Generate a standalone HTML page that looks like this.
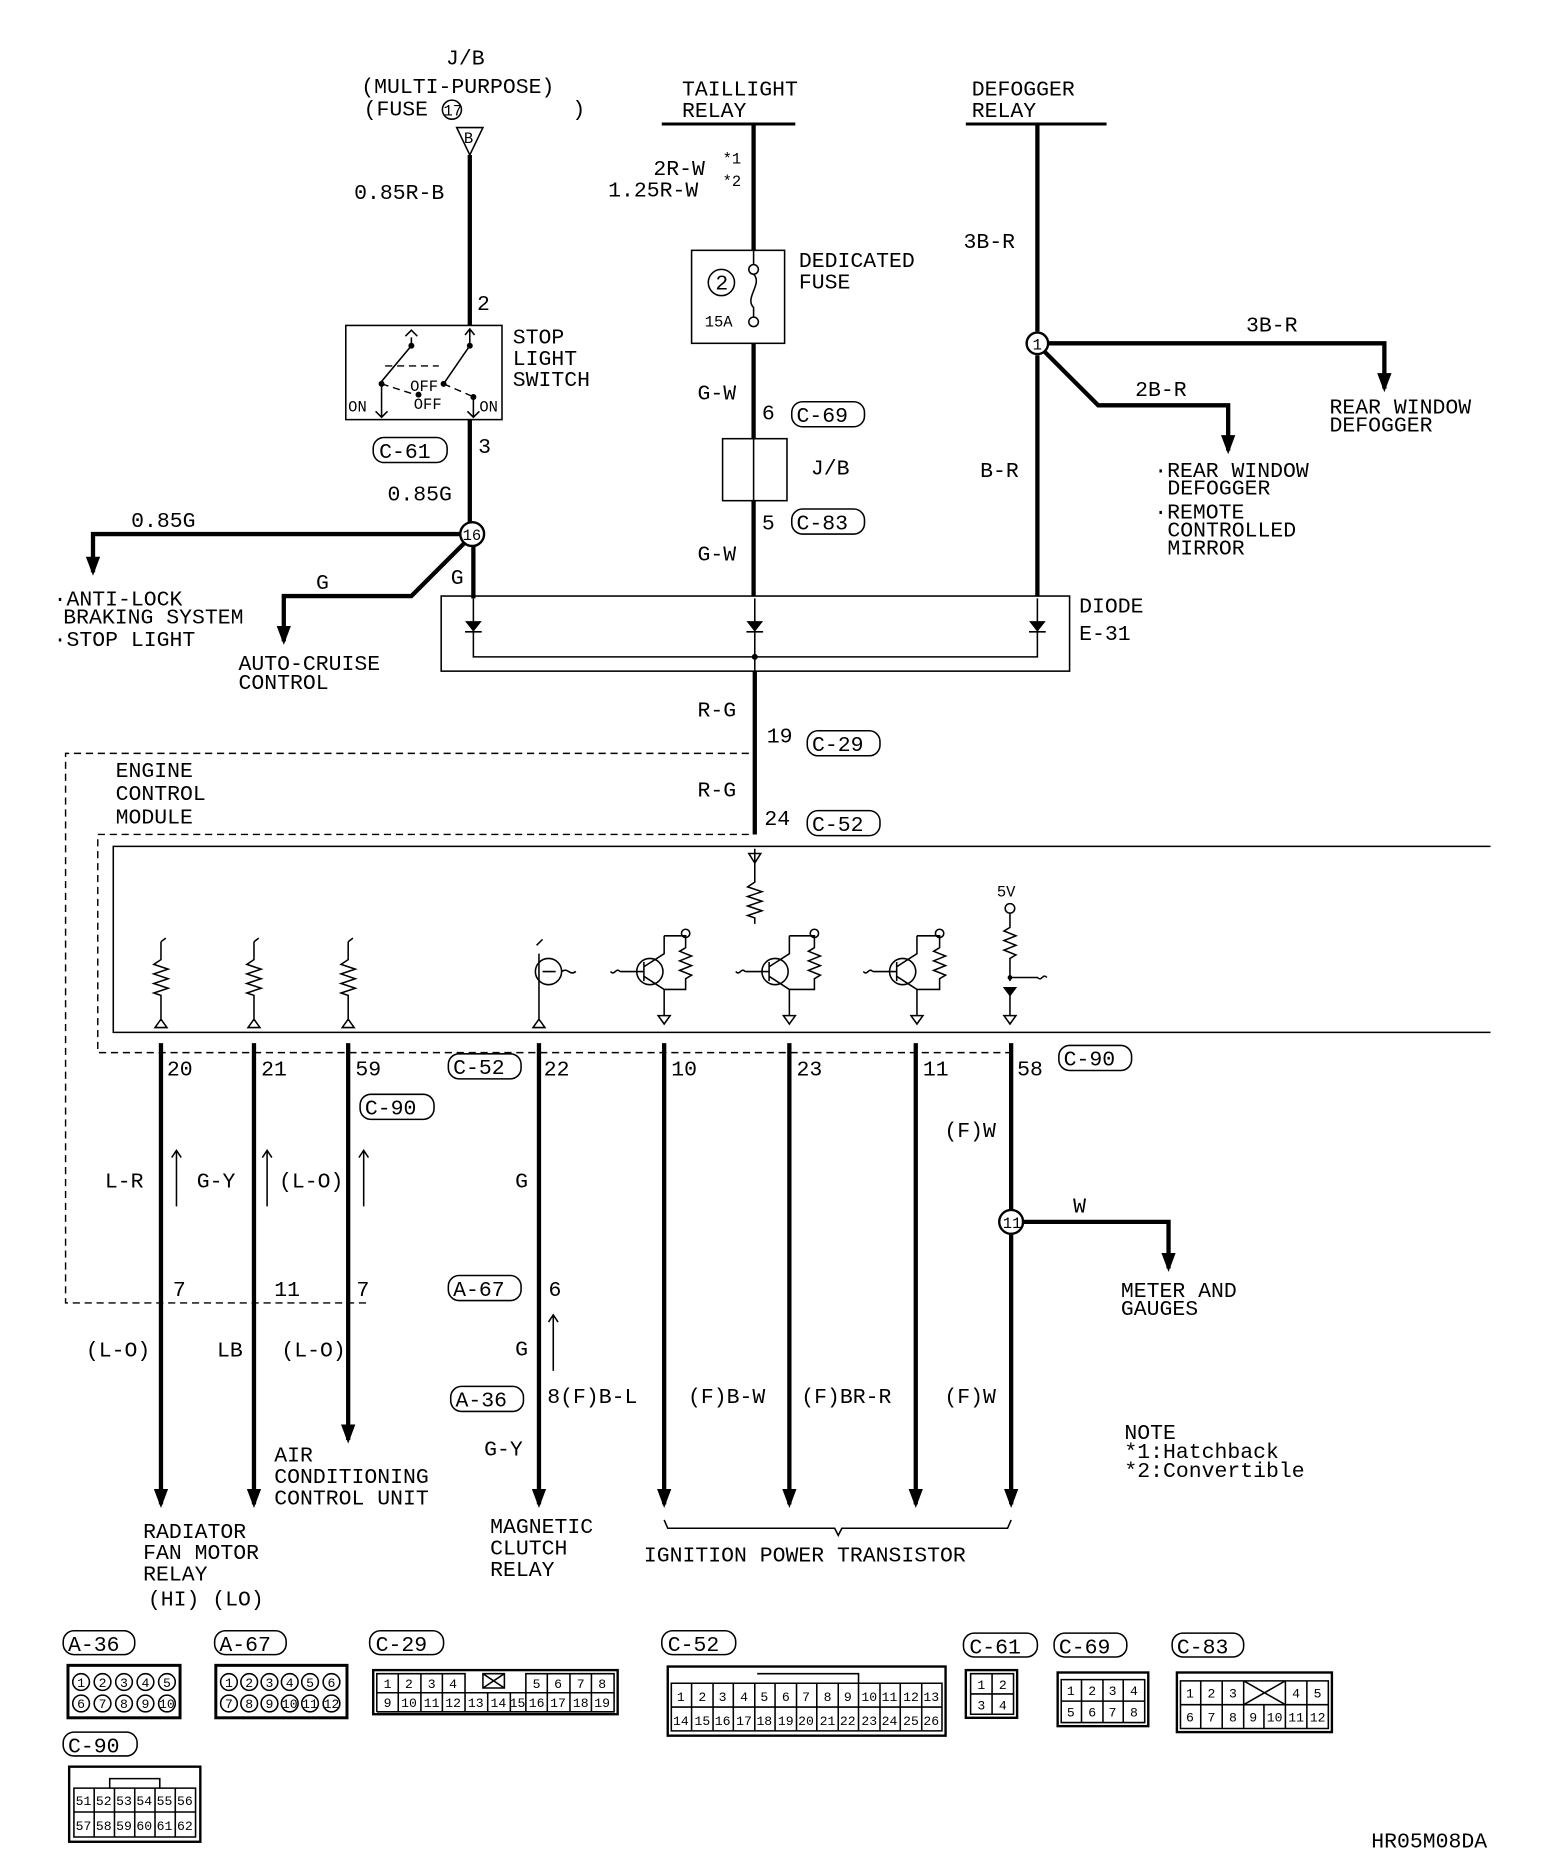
<!DOCTYPE html>
<html><head><meta charset="utf-8"><style>
html,body{margin:0;padding:0;background:#fff}
svg{display:block}
text{font-family:"Liberation Mono","DejaVu Sans Mono",monospace;fill:#000}
.t{font-size:18px}
.s{font-size:13px}
.w{stroke:#000;stroke-width:3.6;fill:none}
.l{stroke:#000;stroke-width:1.3;fill:none}
.d{stroke:#000;stroke-width:1.2;fill:none;stroke-dasharray:6 4}
.c{font-size:11px;text-anchor:middle}
</style></head><body>
<svg width="1568" height="1868" viewBox="0 0 1315 1567" preserveAspectRatio="none" xmlns="http://www.w3.org/2000/svg">
<defs><marker id="a" markerWidth="12" markerHeight="16" refX="6" refY="13" orient="0" markerUnits="userSpaceOnUse"><path d="M0,0 L12,0 L6,16 z" fill="#000" stroke="none"/></marker></defs>

<!-- J/B fuse -->
<text class="t" x="374" y="54">J/B</text>
<text class="t" x="303" y="78">(MULTI-PURPOSE)</text>
<text class="t" x="305" y="97">(FUSE</text>
<circle cx="379" cy="92" r="8" class="l"/><text class="s" x="372" y="97">17</text>
<text class="t" x="480" y="97">)</text>
<path d="M383,107 L405,107 L394,130 z" class="l"/><text class="s" x="389" y="120">B</text>
<line x1="394" y1="130" x2="394" y2="273" class="w"/>
<text class="t" x="297" y="167">0.85R-B</text>
<text class="t" x="400" y="260">2</text>
<rect x="290" y="273" width="131" height="79" class="l"/>
<text class="t" x="430" y="288">STOP</text><text class="t" x="430" y="306">LIGHT</text><text class="t" x="430" y="324">SWITCH</text>
<path d="M394,276 L394,290 M390,281 L394,276 L398,281" class="l"/>
<path d="M345,283 L345,290 M340,282 L345,277 L350,282 M345,290 L320,320 M394,290 L372,322" class="l"/>
<circle cx="345" cy="290" r="2.5"/><circle cx="394" cy="290" r="2.5"/><circle cx="320" cy="322" r="2.5"/><circle cx="372" cy="322" r="2.5"/><circle cx="351" cy="331" r="2.5"/><circle cx="397" cy="333" r="2.5"/>
<path d="M323,307 L368,307 M320,322 L348,331 M372,322 L395,332" class="d"/>
<path d="M320,322 L320,350 M315,345 L320,350 L325,345 M397,333 L397,350 M392,345 L397,350 L402,345" class="l"/>
<text class="s" x="292" y="345">ON</text><text class="s" x="344" y="328">OFF</text><text class="s" x="347" y="343">OFF</text><text class="s" x="402" y="345">ON</text>
<rect x="313" y="367" width="62" height="21" rx="9" class="l"/><text class="t" x="318" y="384">C-61</text>
<text class="t" x="401" y="380">3</text>
<line x1="394" y1="352" x2="394" y2="439" class="w"/>
<text class="t" x="325" y="420">0.85G</text>
<circle cx="396" cy="448" r="10" class="l" style="stroke-width:2"/><text class="s" x="388" y="453">16</text>
<path d="M386,448 L78,448 L78,480" class="w" marker-end="url(#a)"/>
<text class="t" x="110" y="442">0.85G</text>
<text class="t" x="45" y="508">·ANTI-LOCK</text><text class="t" x="53" y="523">BRAKING SYSTEM</text><text class="t" x="45" y="542">·STOP LIGHT</text>
<path d="M389,456 L345,500 L238,500 L238,538" class="w" marker-end="url(#a)"/>
<text class="t" x="265" y="494">G</text>
<text class="t" x="200" y="562">AUTO-CRUISE</text><text class="t" x="200" y="578">CONTROL</text>
<line x1="397" y1="458" x2="397" y2="502" class="w"/>
<text class="t" x="378" y="490">G</text>

<!-- Diode -->
<rect x="370" y="500" width="527" height="63" class="l"/>
<text class="t" x="905" y="514">DIODE</text><text class="t" x="905" y="537">E-31</text>
<path d="M397,502 L397,551 L870,551 L870,502 M633,502 L633,563" class="l"/>
<path d="M390,521 L404,521 L397,530 z M626,521 L640,521 L633,530 z M863,521 L877,521 L870,530 z"/>
<path d="M390,530 L404,530 M626,530 L640,530 M863,530 L877,530" class="l"/>
<circle cx="633" cy="551" r="2.5"/>

<!-- Taillight -->
<text class="t" x="572" y="80">TAILLIGHT</text><text class="t" x="572" y="98">RELAY</text>
<line x1="555" y1="104" x2="667" y2="104" class="w" style="stroke-width:2.5"/>
<line x1="632" y1="104" x2="632" y2="210" class="w"/>
<text class="t" x="548" y="147">2R-W</text><text class="s" x="606" y="137">*1</text>
<text class="t" x="510" y="165">1.25R-W</text><text class="s" x="606" y="156">*2</text>
<rect x="580" y="210" width="78" height="78" class="l"/>
<circle cx="605" cy="237" r="11" class="l"/><text class="t" x="600" y="243">2</text>
<text class="s" x="591" y="274">15A</text>
<circle cx="632" cy="226" r="4" class="l"/><circle cx="632" cy="270" r="4" class="l"/>
<path d="M632,230 C640,238 624,250 632,258 L632,266" class="l"/>
<line x1="632" y1="210" x2="632" y2="222" class="l"/>
<text class="t" x="670" y="224">DEDICATED</text><text class="t" x="670" y="242">FUSE</text>
<line x1="632" y1="288" x2="632" y2="368" class="w"/>
<text class="t" x="585" y="335">G-W</text>
<text class="t" x="639" y="352">6</text>
<rect x="664" y="337" width="61" height="21" rx="9" class="l"/><text class="t" x="668" y="354">C-69</text>
<rect x="606" y="368" width="54" height="52" class="l"/>
<line x1="632" y1="368" x2="632" y2="420" class="l"/>
<text class="t" x="680" y="398">J/B</text>
<line x1="632" y1="420" x2="632" y2="500" class="w"/>
<text class="t" x="639" y="444">5</text>
<rect x="664" y="427" width="61" height="21" rx="9" class="l"/><text class="t" x="668" y="444">C-83</text>
<text class="t" x="585" y="470">G-W</text>

<!-- Defogger -->
<text class="t" x="815" y="80">DEFOGGER</text><text class="t" x="815" y="98">RELAY</text>
<line x1="810" y1="104" x2="928" y2="104" class="w" style="stroke-width:2.5"/>
<line x1="870" y1="104" x2="870" y2="278" class="w"/>
<line x1="870" y1="298" x2="870" y2="500" class="w"/>
<text class="t" x="808" y="208">3B-R</text>
<circle cx="870" cy="288" r="9" class="l" style="stroke-width:2"/><text class="s" x="866" y="293">1</text>
<path d="M879,288 L1161,288 L1161,326" class="w" marker-end="url(#a)"/>
<text class="t" x="1045" y="278">3B-R</text>
<path d="M876,295 L921,340 L1030,340 L1030,378" class="w" marker-end="url(#a)"/>
<text class="t" x="952" y="332">2B-R</text>
<text class="t" x="1115" y="347">REAR WINDOW</text><text class="t" x="1115" y="362">DEFOGGER</text>
<text class="t" x="968" y="400">·REAR WINDOW</text><text class="t" x="979" y="415">DEFOGGER</text>
<text class="t" x="968" y="435">·REMOTE</text><text class="t" x="979" y="450">CONTROLLED</text><text class="t" x="979" y="465">MIRROR</text>
<text class="t" x="822" y="400">B-R</text>

<!-- R-G -->
<line x1="633" y1="563" x2="633" y2="700" class="w"/>
<text class="t" x="585" y="601">R-G</text>
<text class="t" x="643" y="623">19</text>
<rect x="677" y="613" width="61" height="21" rx="9" class="l"/><text class="t" x="681" y="630">C-29</text>
<text class="t" x="585" y="668">R-G</text>
<text class="t" x="641" y="692">24</text>
<rect x="677" y="680" width="61" height="21" rx="9" class="l"/><text class="t" x="681" y="697">C-52</text>

<!-- ECM dashed -->
<path d="M628,632 L55,632 L55,1093 L310,1093" class="d"/>
<path d="M628,700 L82,700 L82,883 L850,883" class="d"/>
<text class="t" x="97" y="652">ENGINE</text><text class="t" x="97" y="671">CONTROL</text><text class="t" x="97" y="691">MODULE</text>
<path d="M1250,710 L95,710 L95,866 L1250,866" class="l"/>

<!-- internals -->
<path d="M633,712 L633,740 l-6,4 12,4 -12,4 12,4 -12,4 12,4 -12,4 6,2 L633,775" class="l"/>
<path d="M628,716 L638,716 L633,724 z" class="l"/>
<g class="l">
<path d="M135,790 l4,-3 M135,790 L135,805 l-6,4 12,4 -12,4 12,4 -12,4 12,4 -12,4 6,2 L135,855 M130,862 L140,862 L135,855 z"/>
<path d="M213,790 l4,-3 M213,790 L213,805 l-6,4 12,4 -12,4 12,4 -12,4 12,4 -12,4 6,2 L213,855 M208,862 L218,862 L213,855 z"/>
<path d="M292,790 l4,-3 M292,790 L292,805 l-6,4 12,4 -12,4 12,4 -12,4 12,4 -12,4 6,2 L292,855 M287,862 L297,862 L292,855 z"/>
<circle cx="460" cy="815" r="11"/><path d="M452,800 L452,855 M447,862 L457,862 L452,855 z M455,815 L466,815 M471,815 c6,-4 6,4 12,0 M450,793 l5,-5"/>
<circle cx="545" cy="815" r="11"/><path d="M520,815 L540,815 M540,807 L540,823 M540,811 L557,800 L557,785 M540,819 L557,830 L557,852 M552,852 L562,852 L557,859 z M557,785 L575,785 L575,795 l-5,3 10,4 -10,4 10,4 -10,4 10,4 -5,3 L575,830 L557,830 M520,815 c-4,-4 -4,4 -8,0"/><circle cx="575" cy="783" r="3.5"/>
<circle cx="650" cy="815" r="11"/><path d="M625,815 L645,815 M645,807 L645,823 M645,811 L662,800 L662,785 M645,819 L662,830 L662,852 M657,852 L667,852 L662,859 z M662,785 L683,785 L683,795 l-5,3 10,4 -10,4 10,4 -10,4 10,4 -5,3 L683,830 L662,830 M625,815 c-4,-4 -4,4 -8,0"/><circle cx="683" cy="783" r="3.5"/>
<circle cx="757" cy="815" r="11"/><path d="M732,815 L752,815 M752,807 L752,823 M752,811 L769,800 L769,785 M752,819 L769,830 L769,852 M764,852 L774,852 L769,859 z M769,785 L788,785 L788,795 l-5,3 10,4 -10,4 10,4 -10,4 10,4 -5,3 L788,830 L769,830 M732,815 c-4,-4 -4,4 -8,0"/><circle cx="788" cy="783" r="3.5"/>
<circle cx="847" cy="762" r="4"/><path d="M847,766 L847,778 l-5,3 10,4 -10,4 10,4 -10,4 10,4 -5,3 L847,823 M847,820 L870,820 c4,4 4,-4 8,0 M842,852 L852,852 L847,859 z M847,834 L847,852"/>
</g>
<text class="s" x="836" y="752">5V</text>
<path d="M841,828 L853,828 L847,836 z"/>
<circle cx="847" cy="820" r="2"/>

<!-- output wires -->
<g class="w">
<line x1="135" y1="875" x2="135" y2="1262" marker-end="url(#a)"/>
<line x1="213" y1="875" x2="213" y2="1262" marker-end="url(#a)"/>
<line x1="292" y1="875" x2="292" y2="1208" marker-end="url(#a)"/>
<line x1="452" y1="875" x2="452" y2="1262" marker-end="url(#a)"/>
<line x1="557" y1="875" x2="557" y2="1262" marker-end="url(#a)"/>
<line x1="662" y1="875" x2="662" y2="1262" marker-end="url(#a)"/>
<line x1="768" y1="875" x2="768" y2="1262" marker-end="url(#a)"/>
<line x1="848" y1="875" x2="848" y2="1015"/>
<line x1="848" y1="1035" x2="848" y2="1262" marker-end="url(#a)"/>
<path d="M857,1025 L980,1025 L980,1064" marker-end="url(#a)"/>
</g>
<circle cx="848" cy="1025" r="10" class="l" style="stroke-width:2"/><text class="s" x="841" y="1030">11</text>
<text class="t" x="900" y="1017">W</text>
<text class="t" x="940" y="1088">METER AND</text><text class="t" x="940" y="1103">GAUGES</text>
<text class="t" x="140" y="902">20</text><text class="t" x="219" y="902">21</text><text class="t" x="298" y="902">59</text>
<rect x="302" y="918" width="62" height="21" rx="9" class="l"/><text class="t" x="306" y="935">C-90</text>
<rect x="376" y="884" width="61" height="21" rx="9" class="l"/><text class="t" x="380" y="901">C-52</text>
<text class="t" x="456" y="902">22</text><text class="t" x="563" y="902">10</text><text class="t" x="668" y="902">23</text><text class="t" x="774" y="902">11</text><text class="t" x="853" y="902">58</text>
<rect x="888" y="877" width="61" height="21" rx="9" class="l"/><text class="t" x="892" y="894">C-90</text>
<text class="t" x="88" y="996">L-R</text><text class="t" x="165" y="996">G-Y</text><text class="t" x="234" y="996">(L-O)</text>
<text class="t" x="432" y="996">G</text><text class="t" x="792" y="954">(F)W</text>
<path d="M148,1012 L148,965 M144,971 L148,965 L152,971 M224,1012 L224,965 M220,971 L224,965 L228,971 M305,1012 L305,965 M301,971 L305,965 L309,971 M464,1150 L464,1103 M460,1109 L464,1103 L468,1109" class="l"/>
<text class="t" x="145" y="1087">7</text><text class="t" x="230" y="1087">11</text><text class="t" x="299" y="1087">7</text>
<rect x="376" y="1070" width="61" height="21" rx="9" class="l"/><text class="t" x="380" y="1087">A-67</text>
<text class="t" x="460" y="1087">6</text>
<text class="t" x="432" y="1137">G</text>
<text class="t" x="72" y="1138">(L-O)</text><text class="t" x="182" y="1138">LB</text><text class="t" x="236" y="1138">(L-O)</text>
<rect x="378" y="1163" width="61" height="21" rx="9" class="l"/><text class="t" x="382" y="1180">A-36</text>
<text class="t" x="459" y="1177">8(F)B-L</text><text class="t" x="577" y="1177">(F)B-W</text><text class="t" x="672" y="1177">(F)BR-R</text><text class="t" x="792" y="1177">(F)W</text>
<text class="t" x="406" y="1221">G-Y</text>
<text class="t" x="230" y="1226">AIR</text><text class="t" x="230" y="1244">CONDITIONING</text><text class="t" x="230" y="1262">CONTROL UNIT</text>
<text class="t" x="120" y="1290">RADIATOR</text><text class="t" x="120" y="1308">FAN MOTOR</text><text class="t" x="120" y="1326">RELAY</text><text class="t" x="124" y="1347">(HI)  (LO)</text>
<text class="t" x="411" y="1286">MAGNETIC</text><text class="t" x="411" y="1304">CLUTCH</text><text class="t" x="411" y="1322">RELAY</text>
<path d="M557,1275 L560,1282 L700,1282 L703,1288 L706,1282 L845,1282 L848,1275" class="l"/>
<text class="t" x="540" y="1310">IGNITION POWER TRANSISTOR</text>
<text class="t" x="943" y="1207">NOTE</text><text class="t" x="943" y="1223">*1:Hatchback</text><text class="t" x="943" y="1239">*2:Convertible</text>

<!-- connectors -->
<g class="l">
<rect x="53" y="1368" width="60" height="20" rx="9"/><rect x="180" y="1368" width="60" height="20" rx="9"/>
<rect x="310" y="1368" width="62" height="20" rx="9"/><rect x="555" y="1368" width="62" height="20" rx="9"/>
<rect x="808" y="1370" width="62" height="20" rx="9"/><rect x="884" y="1370" width="61" height="20" rx="9"/>
<rect x="983" y="1370" width="60" height="20" rx="9"/><rect x="53" y="1453" width="62" height="20" rx="9"/>
<rect x="57" y="1397" width="94" height="44" style="stroke-width:2.5"/>
<rect x="181" y="1397" width="110" height="44" style="stroke-width:2.5"/>
<rect x="313" y="1401" width="205" height="37" style="stroke-width:2"/>
<rect x="560" y="1398" width="233" height="58" style="stroke-width:2"/>
<rect x="810" y="1401" width="43" height="40" style="stroke-width:2"/>
<rect x="887" y="1403" width="76" height="45" style="stroke-width:2"/>
<rect x="987" y="1403" width="130" height="50" style="stroke-width:2"/>
<rect x="58" y="1482" width="110" height="63" style="stroke-width:2"/>
</g>
<text class="t" x="57" y="1385">A-36</text><text class="t" x="184" y="1385">A-67</text><text class="t" x="315" y="1385">C-29</text><text class="t" x="560" y="1385">C-52</text>
<text class="t" x="813" y="1387">C-61</text><text class="t" x="888" y="1387">C-69</text><text class="t" x="987" y="1387">C-83</text><text class="t" x="57" y="1470">C-90</text>
<text class="t" x="1150" y="1550">HR05M08DA</text>

<!-- A-36 -->
<g class="l"><circle cx="68" cy="1411" r="7"/><circle cx="86" cy="1411" r="7"/><circle cx="104" cy="1411" r="7"/><circle cx="122" cy="1411" r="7"/><circle cx="140" cy="1411" r="7"/>
<circle cx="68" cy="1429" r="7"/><circle cx="86" cy="1429" r="7"/><circle cx="104" cy="1429" r="7"/><circle cx="122" cy="1429" r="7"/><circle cx="140" cy="1429" r="7"/></g>
<text class="c" x="68" y="1415">1</text><text class="c" x="86" y="1415">2</text><text class="c" x="104" y="1415">3</text><text class="c" x="122" y="1415">4</text><text class="c" x="140" y="1415">5</text>
<text class="c" x="68" y="1433">6</text><text class="c" x="86" y="1433">7</text><text class="c" x="104" y="1433">8</text><text class="c" x="122" y="1433">9</text><text class="c" x="140" y="1433">10</text>
<!-- A-67 -->
<g class="l"><circle cx="192" cy="1411" r="7"/><circle cx="209" cy="1411" r="7"/><circle cx="226" cy="1411" r="7"/><circle cx="243" cy="1411" r="7"/><circle cx="260" cy="1411" r="7"/><circle cx="278" cy="1411" r="7"/>
<circle cx="192" cy="1429" r="7"/><circle cx="209" cy="1429" r="7"/><circle cx="226" cy="1429" r="7"/><circle cx="243" cy="1429" r="7"/><circle cx="260" cy="1429" r="7"/><circle cx="278" cy="1429" r="7"/></g>
<text class="c" x="192" y="1415">1</text><text class="c" x="209" y="1415">2</text><text class="c" x="226" y="1415">3</text><text class="c" x="243" y="1415">4</text><text class="c" x="260" y="1415">5</text><text class="c" x="278" y="1415">6</text>
<text class="c" x="192" y="1433">7</text><text class="c" x="209" y="1433">8</text><text class="c" x="226" y="1433">9</text><text class="c" x="243" y="1433">10</text><text class="c" x="260" y="1433">11</text><text class="c" x="278" y="1433">12</text>
<!-- C-29 -->
<path d="M316,1404 L390,1404 L390,1420 L316,1420 z M334,1404 L334,1436 M353,1404 L353,1436 M371,1404 L371,1436 M390,1404 L390,1436 M316,1420 L515,1420 L515,1404 L441,1404 L441,1436 M459,1404 L459,1436 M478,1404 L478,1436 M496,1404 L496,1436 M316,1436 L515,1436 L515,1420 M316,1420 L316,1436 M409,1420 L409,1436 M428,1420 L428,1436 M405,1404 L423,1404 L423,1416 L405,1416 z M405,1404 L423,1416 M423,1404 L405,1416" class="l"/>
<text class="c" x="325" y="1416">1</text><text class="c" x="343" y="1416">2</text><text class="c" x="362" y="1416">3</text><text class="c" x="380" y="1416">4</text><text class="c" x="450" y="1416">5</text><text class="c" x="468" y="1416">6</text><text class="c" x="487" y="1416">7</text><text class="c" x="505" y="1416">8</text>
<text class="c" x="325" y="1432">9</text><text class="c" x="343" y="1432">10</text><text class="c" x="362" y="1432">11</text><text class="c" x="380" y="1432">12</text><text class="c" x="399" y="1432">13</text><text class="c" x="418" y="1432">14</text><text class="c" x="434" y="1432">15</text><text class="c" x="450" y="1432">16</text><text class="c" x="468" y="1432">17</text><text class="c" x="487" y="1432">18</text><text class="c" x="505" y="1432">19</text>
<!-- C-52 -->
<path d="M563,1412 L790,1412 L790,1452 L563,1452 z M563,1432 L790,1432 M580,1412 L580,1452 M598,1412 L598,1452 M615,1412 L615,1452 M633,1412 L633,1452 M650,1412 L650,1452 M668,1412 L668,1452 M685,1412 L685,1452 M703,1412 L703,1452 M720,1412 L720,1452 M738,1412 L738,1452 M755,1412 L755,1452 M773,1412 L773,1452 M635,1404 L720,1404 L720,1412" class="l"/>
<text class="c" x="571" y="1427">1</text><text class="c" x="589" y="1427">2</text><text class="c" x="606" y="1427">3</text><text class="c" x="624" y="1427">4</text><text class="c" x="641" y="1427">5</text><text class="c" x="659" y="1427">6</text><text class="c" x="676" y="1427">7</text><text class="c" x="694" y="1427">8</text><text class="c" x="711" y="1427">9</text><text class="c" x="729" y="1427">10</text><text class="c" x="746" y="1427">11</text><text class="c" x="764" y="1427">12</text><text class="c" x="781" y="1427">13</text>
<text class="c" x="571" y="1447">14</text><text class="c" x="589" y="1447">15</text><text class="c" x="606" y="1447">16</text><text class="c" x="624" y="1447">17</text><text class="c" x="641" y="1447">18</text><text class="c" x="659" y="1447">19</text><text class="c" x="676" y="1447">20</text><text class="c" x="694" y="1447">21</text><text class="c" x="711" y="1447">22</text><text class="c" x="729" y="1447">23</text><text class="c" x="746" y="1447">24</text><text class="c" x="764" y="1447">25</text><text class="c" x="781" y="1447">26</text>
<!-- C-61 -->
<path d="M814,1404 L850,1404 L850,1438 L814,1438 z M814,1421 L850,1421 M832,1404 L832,1438" class="l"/>
<text class="c" x="823" y="1417">1</text><text class="c" x="841" y="1417">2</text><text class="c" x="823" y="1434">3</text><text class="c" x="841" y="1434">4</text>
<!-- C-69 -->
<path d="M890,1409 L960,1409 L960,1445 L890,1445 z M890,1427 L960,1427 M907,1409 L907,1445 M925,1409 L925,1445 M942,1409 L942,1445" class="l"/>
<text class="c" x="898" y="1422">1</text><text class="c" x="916" y="1422">2</text><text class="c" x="933" y="1422">3</text><text class="c" x="951" y="1422">4</text>
<text class="c" x="898" y="1440">5</text><text class="c" x="916" y="1440">6</text><text class="c" x="933" y="1440">7</text><text class="c" x="951" y="1440">8</text>
<!-- C-83 -->
<path d="M990,1410 L1114,1410 L1114,1450 L990,1450 z M990,1430 L1114,1430 M1007,1410 L1007,1450 M1025,1410 L1025,1450 M1043,1410 L1043,1450 M1060,1430 L1060,1450 M1078,1410 L1078,1450 M1096,1410 L1096,1450 M1043,1410 L1078,1430 M1078,1410 L1043,1430" class="l"/>
<text class="c" x="998" y="1424">1</text><text class="c" x="1016" y="1424">2</text><text class="c" x="1034" y="1424">3</text><text class="c" x="1087" y="1424">4</text><text class="c" x="1105" y="1424">5</text>
<text class="c" x="998" y="1444">6</text><text class="c" x="1016" y="1444">7</text><text class="c" x="1034" y="1444">8</text><text class="c" x="1051" y="1444">9</text><text class="c" x="1069" y="1444">10</text><text class="c" x="1087" y="1444">11</text><text class="c" x="1105" y="1444">12</text>
<!-- C-90 -->
<path d="M62,1500 L164,1500 L164,1541 L62,1541 z M62,1520 L164,1520 M79,1500 L79,1541 M96,1500 L96,1541 M113,1500 L113,1541 M130,1500 L130,1541 M147,1500 L147,1541 M92,1500 L92,1492 L134,1492 L134,1500" class="l"/>
<text class="c" x="70" y="1514">51</text><text class="c" x="87" y="1514">52</text><text class="c" x="104" y="1514">53</text><text class="c" x="121" y="1514">54</text><text class="c" x="138" y="1514">55</text><text class="c" x="155" y="1514">56</text>
<text class="c" x="70" y="1535">57</text><text class="c" x="87" y="1535">58</text><text class="c" x="104" y="1535">59</text><text class="c" x="121" y="1535">60</text><text class="c" x="138" y="1535">61</text><text class="c" x="155" y="1535">62</text>
</svg>
</body></html>
